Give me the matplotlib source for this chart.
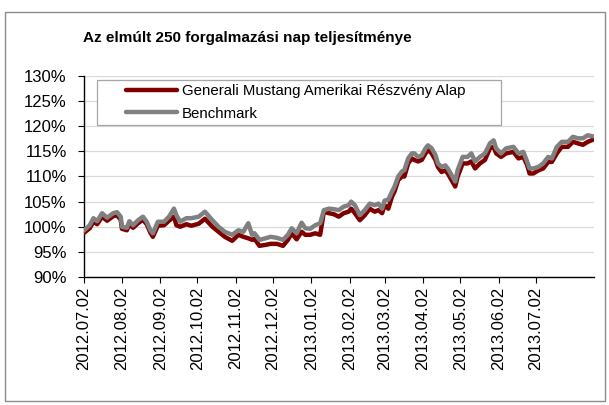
import numpy as np
import pandas as pd
import matplotlib
matplotlib.use("Agg")
import matplotlib.pyplot as plt
import matplotlib.dates as mdates
from matplotlib.patches import Rectangle
from matplotlib.ticker import FuncFormatter

plt.rcParams["font.family"] = ["Liberation Sans", "DejaVu Sans"]
plt.rcParams["font.size"] = 10

# --- data (% of start value) -----------------------------------------------
dates = [
    "2012-07-02", "2012-07-07", "2012-07-10", "2012-07-13", "2012-07-17", "2012-07-21",
    "2012-07-26", "2012-07-29", "2012-08-01", "2012-08-02", "2012-08-06", "2012-08-08",
    "2012-08-11", "2012-08-15", "2012-08-19", "2012-08-22", "2012-08-25", "2012-08-27",
    "2012-08-31", "2012-09-05", "2012-09-09", "2012-09-13", "2012-09-15", "2012-09-18",
    "2012-09-23", "2012-09-27", "2012-10-03", "2012-10-08", "2012-10-14", "2012-10-19",
    "2012-10-24", "2012-10-30", "2012-11-04", "2012-11-08", "2012-11-12", "2012-11-15",
    "2012-11-17", "2012-11-21", "2012-11-26", "2012-11-30", "2012-12-05", "2012-12-10",
    "2012-12-14", "2012-12-17", "2012-12-21", "2012-12-25", "2012-12-28", "2013-01-01",
    "2013-01-05", "2013-01-09", "2013-01-12", "2013-01-16", "2013-01-20", "2013-01-24",
    "2013-01-28", "2013-02-01", "2013-02-03", "2013-02-06", "2013-02-10", "2013-02-14",
    "2013-02-18", "2013-02-22", "2013-02-25", "2013-02-28", "2013-03-02", "2013-03-05",
    "2013-03-08", "2013-03-10", "2013-03-13", "2013-03-16", "2013-03-18", "2013-03-21",
    "2013-03-24", "2013-03-26", "2013-03-29", "2013-04-01", "2013-04-04", "2013-04-06",
    "2013-04-09", "2013-04-12", "2013-04-14", "2013-04-17", "2013-04-20", "2013-04-22",
    "2013-04-25", "2013-04-28", "2013-04-30", "2013-05-04", "2013-05-08", "2013-05-11",
    "2013-05-14", "2013-05-18", "2013-05-22", "2013-05-26", "2013-05-29", "2013-05-31",
    "2013-06-04", "2013-06-08", "2013-06-14", "2013-06-18", "2013-06-22", "2013-06-25",
    "2013-06-27", "2013-06-30", "2013-07-04", "2013-07-08", "2013-07-12", "2013-07-15",
    "2013-07-19", "2013-07-23", "2013-07-28", "2013-08-01", "2013-08-05", "2013-08-09",
    "2013-08-13", "2013-08-17",
]
benchmark = [
    99.2, 100.3, 101.7, 101.1, 102.7, 101.8, 102.7, 102.9, 102.0, 100.0, 99.8, 101.1,
    100.3, 101.3, 102.0, 101.0, 99.3, 98.7, 101.0, 101.0, 102.0, 103.6, 102.3, 101.0,
    101.7, 101.7, 102.0, 103.0, 101.3, 100.0, 99.0, 98.4, 99.3, 99.0, 100.7, 98.4,
    98.7, 97.4, 97.7, 98.0, 97.8, 97.4, 98.4, 99.7, 98.7, 100.8, 99.7, 99.6,
    100.3, 100.7, 103.3, 103.6, 103.5, 103.3, 104.0, 104.3, 105.0, 104.3, 102.3, 103.3,
    104.6, 104.3, 104.6, 103.6, 105.2, 105.4, 107.0, 108.0, 110.0, 111.0, 111.3, 113.6,
    114.6, 114.6, 113.9, 114.2, 115.6, 116.2, 115.6, 114.3, 112.6, 111.9, 112.2, 111.6,
    110.3, 109.0, 111.3, 113.9, 113.9, 114.6, 113.0, 113.9, 114.6, 116.6, 117.2, 115.6,
    114.6, 115.6, 115.9, 114.6, 114.9, 113.0, 111.6, 111.6, 111.9, 112.6, 113.9, 113.6,
    115.9, 116.9, 116.9, 117.9, 117.6, 117.6, 118.2, 118.0,
]
generali = [
    98.7, 99.7, 101.0, 100.5, 102.0, 101.2, 102.1, 102.3, 101.4, 99.6, 99.3, 100.5,
    99.8, 100.7, 101.4, 100.5, 98.8, 98.0, 100.2, 100.3, 101.2, 102.0, 100.3, 100.0,
    100.5, 100.2, 100.6, 101.6, 100.0, 99.0, 98.0, 97.2, 98.4, 98.0, 97.7, 97.4,
    97.6, 96.2, 96.4, 96.6, 96.6, 96.2, 97.4, 98.7, 97.5, 99.0, 98.4, 98.4,
    98.7, 98.4, 103.0, 102.7, 102.5, 102.0, 102.7, 103.0, 103.6, 102.7, 101.3, 102.3,
    103.6, 103.0, 103.3, 102.7, 104.3, 103.6, 106.0, 107.0, 109.3, 110.0, 110.0, 112.6,
    113.6, 113.3, 113.0, 113.3, 114.6, 115.3, 114.6, 113.3, 111.9, 110.9, 111.2, 110.6,
    109.3, 108.0, 110.0, 112.6, 112.6, 113.0, 111.6, 112.6, 113.3, 115.6, 115.9, 114.6,
    113.9, 114.6, 114.9, 113.6, 113.9, 112.3, 110.6, 110.6, 111.2, 111.6, 112.9, 112.9,
    114.6, 115.9, 115.9, 116.9, 116.6, 116.3, 116.9, 117.3,
]
month_ticks = pd.date_range("2012-07-01", "2013-07-01", freq="MS") + pd.Timedelta(days=1)
labels = ["Generali Mustang Amerikai Részvény Alap", "Benchmark"]
title = "Az elmúlt 250 forgalmazási nap teljesítménye"

x = pd.to_datetime(dates)

W, H = 609, 405
fig = plt.figure(figsize=(W / 100, H / 100), dpi=100)
fig.patch.set_facecolor("white")

# outer chart frame
fig.add_artist(Rectangle((5 / W, 1 - 401 / H), 600 / W, 389 / H, transform=fig.transFigure,
                         fill=False, edgecolor="#8c8c8c", lw=1.0))

ax = fig.add_axes([83.5 / W, 1 - 277 / H, (594 - 83.5) / W, (277 - 76) / H])

l1, = ax.plot(x, generali, color="#800000", lw=3.2, solid_capstyle="round", zorder=3)
l2, = ax.plot(x, benchmark, color="#808080", lw=3.2, solid_capstyle="round", zorder=4)

ax.set_ylim(90, 130)
ax.set_yticks(np.arange(90, 131, 5))
ax.yaxis.set_major_formatter(FuncFormatter(lambda v, _: f"{v:.0f}%"))
ax.set_xlim(pd.Timestamp("2012-07-02"), pd.Timestamp("2013-08-18"))
ax.set_xticks(month_ticks)
ax.xaxis.set_major_formatter(mdates.DateFormatter("%Y.%m.%d"))
plt.setp(ax.get_xticklabels(), rotation=90)

ax.grid(axis="y", color="#d9d9d9", lw=0.9)
ax.set_axisbelow(True)
for s in ["top", "right"]:
    ax.spines[s].set_visible(False)
for s in ["left", "bottom"]:
    ax.spines[s].set_color("black")
    ax.spines[s].set_linewidth(1.0)
ax.tick_params(axis="both", direction="out", length=4, width=0.8, colors="black",
               labelsize=12)
ax.tick_params(axis="y", pad=8)
ax.tick_params(axis="x", pad=3)

# legend: frame drawn separately so the handles can sit indented as in the original
fig.add_artist(Rectangle((97 / W, 1 - 125 / H), 404 / W, 45 / H, transform=fig.transFigure,
                         facecolor="white", edgecolor="#a6a6a6", lw=0.9, zorder=9))
leg = fig.legend([l1, l2], labels, loc="upper left", bbox_to_anchor=(126 / W, 1 - 84 / H),
                 frameon=False, fontsize=10.8, handlelength=3.4, handletextpad=0.3,
                 borderpad=0.0, labelspacing=0.58, borderaxespad=0)
leg.set_zorder(10)
for line in leg.get_lines():
    line.set_linewidth(3.2)

fig.text(247 / W, 1 - 38 / H, title, ha="center", va="center", fontsize=11,
         fontweight="bold", family=["Liberation Sans", "DejaVu Sans"])

fig.savefig("out.png", dpi=100)
